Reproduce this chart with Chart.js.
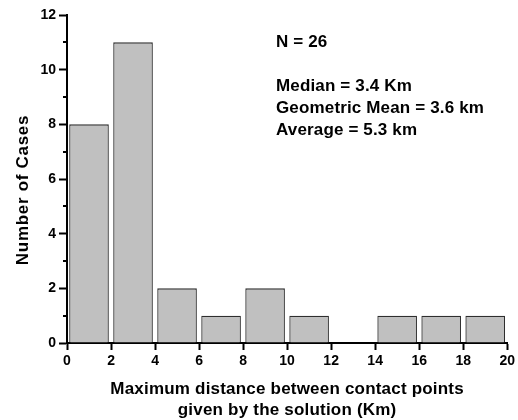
<!DOCTYPE html>
<html>
<head>
<meta charset="utf-8">
<script src="https://cdn.jsdelivr.net/npm/chart.js@4.4.0/dist/chart.umd.min.js"></script>
<style>
  html, body { margin: 0; padding: 0; background: #fff; }
  #wrap { width: 518px; height: 420px; }
</style>
</head>
<body>
<div id="wrap"><canvas id="hist" width="518" height="420"></canvas></div>
<script>
// histogram bins (km), centre of each 2 km bin
const binCenters = [1, 3, 5, 7, 9, 11, 13, 15, 17, 19];
const counts = [8, 11, 2, 1, 2, 1, 0, 1, 1, 1];
const xTickStep = 2;
const yTickStep = 1;
const xTitle = ['Maximum distance between contact points', 'given by the solution (Km)'];
const yTitle = 'Number of Cases';
const statsLines = ['N = 26', '', 'Median = 3.4 Km', 'Geometric Mean = 3.6 km', 'Average = 5.3 km'];

const FONT = "'Liberation Sans', Arial, sans-serif";

// minor y ticks, axis titles and stats text
const extras = {
    id: 'extras',
    afterDraw(chart) {
        const { ctx, chartArea, scales: { y } } = chart;
        ctx.save();
        ctx.strokeStyle = '#000';
        ctx.lineWidth = 2;
        y.ticks.forEach(t => {
            if (t.value % 2 === 0) return;
            const py = Math.round(y.getPixelForValue(t.value));
            ctx.beginPath();
            ctx.moveTo(chartArea.left - 4, py);
            ctx.lineTo(chartArea.left, py);
            ctx.stroke();
        });

        ctx.fillStyle = '#000';
        ctx.font = 'bold 17px ' + FONT;

        // x title, two lines
        ctx.letterSpacing = '0.2px';
        ctx.textAlign = 'center';
        ctx.textBaseline = 'alphabetic';
        const cx = (chartArea.left + chartArea.right) / 2;
        xTitle.forEach((line, i) => ctx.fillText(line, cx, 394 + i * 21));

        // y title, rotated
        ctx.letterSpacing = '0.7px';
        ctx.textBaseline = 'middle';
        ctx.translate(23, 190);
        ctx.rotate(-Math.PI / 2);
        ctx.fillText(yTitle, 0, 0);
        ctx.setTransform(1, 0, 0, 1, 0, 0);

        ctx.letterSpacing = '0.15px';
        ctx.textAlign = 'left';
        ctx.textBaseline = 'alphabetic';
        statsLines.forEach((line, i) => {
            if (line) ctx.fillText(line, 276, 47 + i * 22);
        });
        ctx.restore();
    }
};

new Chart(document.getElementById('hist'), {
    type: 'bar',
    data: {
        datasets: [{
            data: binCenters.map((c, i) => ({ x: c, y: counts[i] })),
            backgroundColor: '#c0c0c0',
            borderColor: '#2e2e2e',
            borderWidth: 1.3,
            categoryPercentage: 1,
            barPercentage: 0.9
        }]
    },
    options: {
        responsive: false,
        animation: false,
        events: [],
        layout: { padding: { top: 15, right: 8, left: 0, bottom: 0 } },
        plugins: {
            legend: { display: false },
            tooltip: { enabled: false }
        },
        scales: {
            x: {
                type: 'linear',
                min: 0,
                max: 20,
                offset: false,
                afterFit(scale) { scale.height = 77; },
                border: { color: '#000', width: 2 },
                grid: {
                    offset: false,
                    drawOnChartArea: false,
                    tickLength: 7,
                    tickWidth: 2,
                    tickColor: '#000'
                },
                ticks: {
                    stepSize: xTickStep,
                    padding: 3,
                    color: '#000',
                    maxRotation: 0,
                    font: { family: FONT, size: 14, weight: 'bold' }
                }
            },
            y: {
                min: 0,
                max: 12,
                afterFit(scale) { scale.width = 67; },
                border: { color: '#000', width: 2 },
                grid: {
                    drawOnChartArea: false,
                    tickLength: 8,
                    tickWidth: 2,
                    tickColor: ctx => (ctx.tick && ctx.tick.value % 2 !== 0) ? 'rgba(0,0,0,0)' : '#000'
                },
                ticks: {
                    stepSize: yTickStep,
                    padding: 3,
                    color: '#000',
                    font: { family: FONT, size: 14, weight: 'bold' },
                    callback: v => (v % 2 === 0 ? v : '')
                }
            }
        }
    },
    plugins: [extras]
});
</script>
</body>
</html>
